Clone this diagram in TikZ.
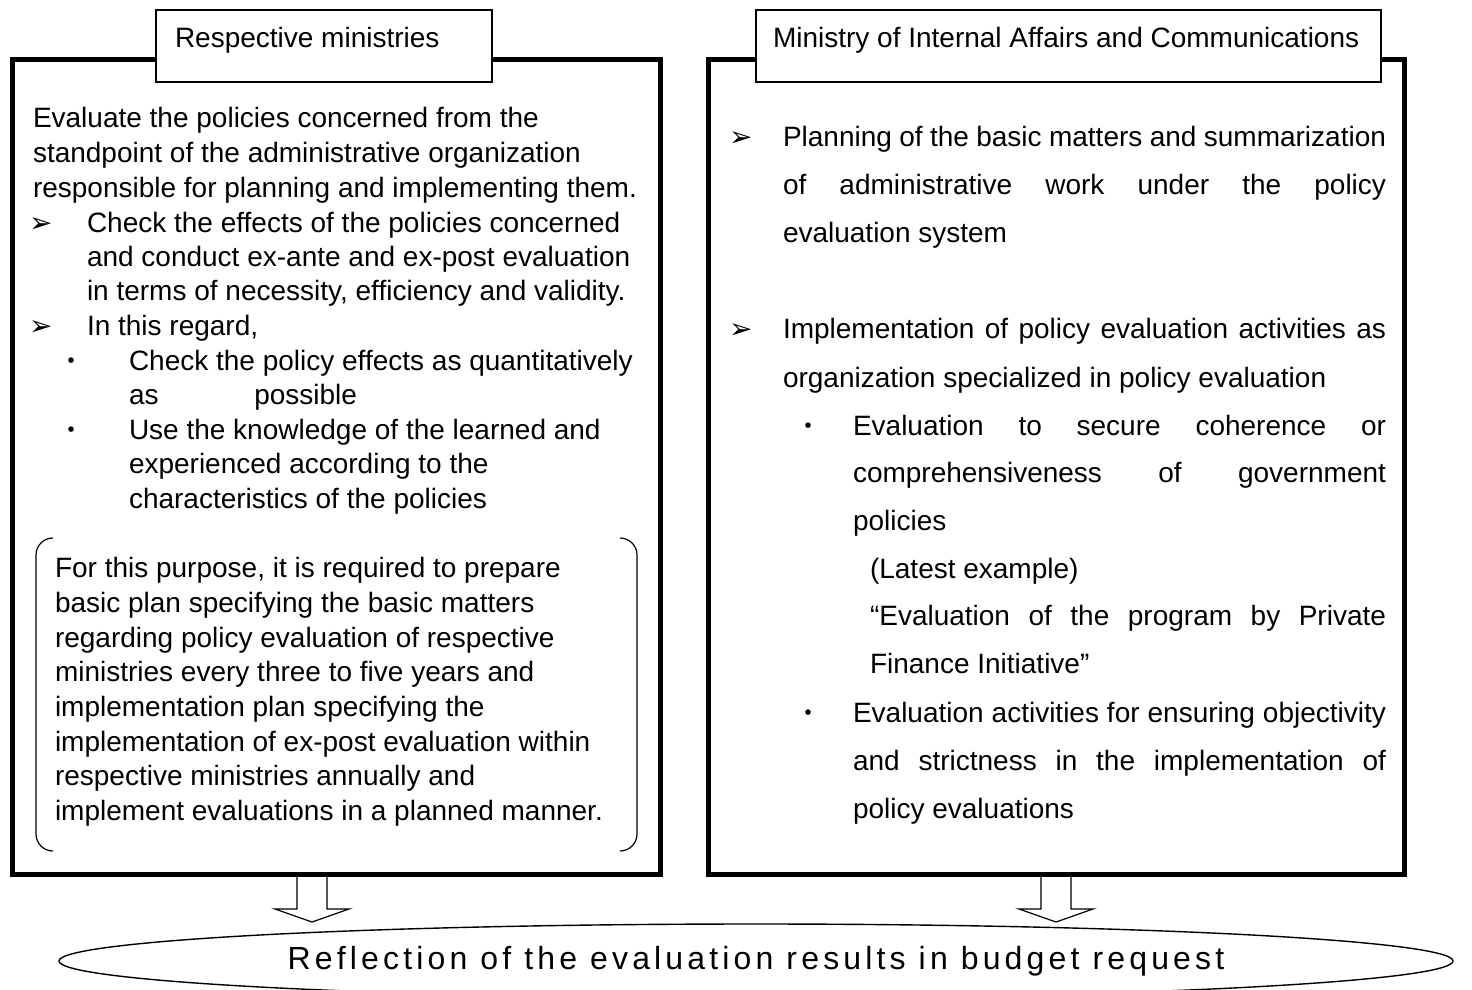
\documentclass[tikz,border=0pt]{standalone}
\usepackage{fontspec}
\setmainfont{Liberation Sans}
\newfontfamily\dejavu{DejaVu Sans}
\newfontfamily\cjkfont{Noto Sans CJK JP}
\newfontfamily\widefont[LetterSpace=13]{Liberation Sans}
\usetikzlibrary{shapes.geometric}
\begin{document}
\begin{tikzpicture}[x=1pt,y=-1pt,
  every node/.style={inner sep=0pt,outer sep=0pt},
  txt/.style={anchor=base west,font=\fontsize{28}{34}\selectfont},
  arrowmark/.style={anchor=base west,font=\dejavu\fontsize{28}{32}\selectfont},
  dotmark/.style={anchor=base,font=\cjkfont\fontsize{26}{30}\selectfont},
  frame/.style={draw,line width=5pt,fill=white},
  titlebox/.style={draw,line width=1.4pt,fill=white,anchor=north west},
  blockarrow/.style={draw,line width=1.2pt,fill=white},
  goalshape/.style={draw,ellipse,line width=1.4pt,fill=white}]
\useasboundingbox (0,0) rectangle (1472,990);

% block arrows (drawn first, frames cover their tops)
\coordinate (la) at (312,872);
\coordinate (ra) at (1056,872);
\draw[blockarrow] (la) ++(-15,0) -- ++(0,37) -- ++(-22,0) -- ++(37,13) -- ++(37,-13) -- ++(-22,0) -- ++(0,-37);
\draw[blockarrow] (ra) ++(-15,0) -- ++(0,37) -- ++(-22,0) -- ++(37,13) -- ++(37,-13) -- ++(-22,0) -- ++(0,-37);

% frames
\node[frame,minimum width=648,minimum height=815] (lframe) at (336.5,467) {};
\node[frame,minimum width=696,minimum height=815] (rframe) at (1056.5,467) {};

% titles
\node[titlebox,minimum width=336,minimum height=72] (ltitle) at (156,10) {};
\node[txt] (ltitletext) at (175,48) {Respective ministries};
\node[titlebox,minimum width=625,minimum height=72] (rtitle) at (756,10) {};
\node[txt] (rtitletext) at (773,48) {Ministry of Internal Affairs and Communications};

% left column
\node[txt] (l1) at (33,127) {Evaluate the policies concerned from the};
\node[txt] (l2) at (33,162) {standpoint of the administrative organization};
\node[txt] (l3) at (33,197) {responsible for planning and implementing them.};
\node[arrowmark] (lb1) at (29,232) {➢};
\node[txt] (l4) at (87,232) {Check the effects of the policies concerned};
\node[txt] (l5) at (87,266) {and conduct ex-ante and ex-post evaluation};
\node[txt] (l6) at (87,300) {in terms of necessity, efficiency and validity.};
\node[arrowmark] (lb2) at (29,335) {➢};
\node[txt] (l7) at (87,335) {In this regard,};
\node[dotmark] (ld1) at (71,370) {・};
\node[txt] (l8) at (129,370) {Check the policy effects as quantitatively};
\node[txt] (l9) at (129,404) {\makebox[228pt][s]{as possible}};
\node[dotmark] (ld2) at (71,439) {・};
\node[txt] (l10) at (129,439) {Use the knowledge of the learned and};
\node[txt] (l11) at (129,473) {experienced according to the};
\node[txt] (l12) at (129,508) {characteristics of the policies};

% bracket
\draw[line width=1.2pt] (53,538) to[out=180,in=90] (36,555) -- (36,834) to[out=-90,in=180] (53,851);
\draw[line width=1.2pt] (620,538) to[out=0,in=90] (637,555) -- (637,834) to[out=-90,in=0] (620,851);
\node[txt] (p1) at (55,577) {For this purpose, it is required to prepare};
\node[txt] (p2) at (55,612) {basic plan specifying the basic matters};
\node[txt] (p3) at (55,647) {regarding policy evaluation of respective};
\node[txt] (p4) at (55,681) {ministries every three to five years and};
\node[txt] (p5) at (55,716) {implementation plan specifying the};
\node[txt] (p6) at (55,751) {implementation of ex-post evaluation within};
\node[txt] (p7) at (55,785) {respective ministries annually and};
\node[txt] (p8) at (55,820) {implement evaluations in a planned manner.};

% right column
\node[arrowmark] (rb1) at (729,146) {➢};
\node[txt] (r1) at (783,146) {\makebox[603pt][s]{Planning of the basic matters and summarization}};
\node[txt] (r2) at (783,194) {\makebox[603pt][s]{of administrative work under the policy}};
\node[txt] (r3) at (783,242) {evaluation system};
\node[arrowmark] (rb2) at (729,338) {➢};
\node[txt] (r4) at (783,338) {\makebox[603pt][s]{Implementation of policy evaluation activities as}};
\node[txt] (r5) at (783,387) {organization specialized in policy evaluation};
\node[dotmark] (rd1) at (808,435) {・};
\node[txt] (r6) at (853,435) {\makebox[533pt][s]{Evaluation to secure coherence or}};
\node[txt] (r7) at (853,482) {\makebox[533pt][s]{comprehensiveness of government}};
\node[txt] (r8) at (853,530) {policies};
\node[txt] (r9) at (870,578) {(Latest example)};
\node[txt] (r10) at (870,625) {\makebox[516pt][s]{“Evaluation of the program by Private}};
\node[txt] (r11) at (870,673) {Finance Initiative”};
\node[dotmark] (rd2) at (808,722) {・};
\node[txt] (r12) at (853,722) {\makebox[533pt][s]{Evaluation activities for ensuring objectivity}};
\node[txt] (r13) at (853,770) {\makebox[533pt][s]{and strictness in the implementation of}};
\node[txt] (r14) at (853,818) {policy evaluations};

% goal ellipse
\node[goalshape,minimum width=1394,minimum height=74,font=\widefont\fontsize{32}{36}\selectfont] (goal) at (756,961) {Reflection of the evaluation results in budget request};
\end{tikzpicture}
\end{document}
